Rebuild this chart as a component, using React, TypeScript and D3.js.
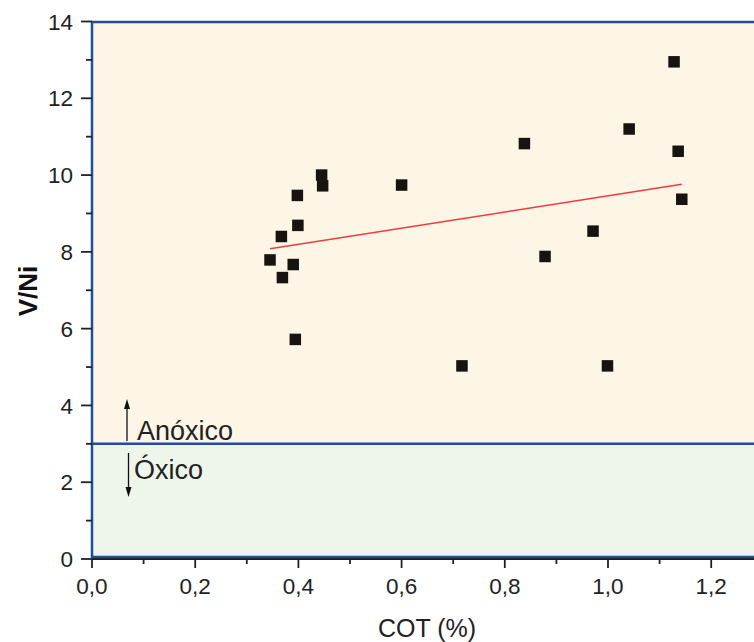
import React from "react";
import * as d3 from "d3";

const cotValues = [0.345, 0.367, 0.369, 0.39, 0.394, 0.398, 0.399, 0.445, 0.447, 0.6, 0.717, 0.838, 0.878, 0.971, 0.999, 1.041, 1.128, 1.136, 1.143];
const vniValues = [7.79, 8.4, 7.33, 7.67, 5.72, 9.47, 8.69, 10.0, 9.72, 9.74, 5.03, 10.82, 7.88, 8.54, 5.03, 11.2, 12.95, 10.62, 9.37];
const trendX = [0.345, 1.143];
const trendY = [8.08, 9.76];
const xTicks = [0, 0.2, 0.4, 0.6, 0.8, 1.0, 1.2];
const xTickLabels = ["0,0", "0,2", "0,4", "0,6", "0,8", "1,0", "1,2"];
const xMinorTicks = [0.1, 0.3, 0.5, 0.7, 0.9, 1.1, 1.3];
const yTicks = [0, 2, 4, 6, 8, 10, 12, 14];
const yMinorTicks = [1, 3, 5, 7, 9, 11, 13];
const threshold = 3;
const zoneLabels = ["Anóxico", "Óxico"];

export default function App() {
  const W = 754, H = 642;
  const x = d3.scaleLinear().domain([0, 1.3]).range([92, 92 + 1.3 * 516]);
  const y = d3.scaleLinear().domain([0, 14]).range([559, 21.5]);
  const font = "'Liberation Sans', Arial, sans-serif";
  const blue = "#1f4f97";
  const sq = 11.5;
  const line = d3.line<number>().x((_, i) => x(trendX[i])).y((d) => y(d));
  const right = x(1.3) + 20;
  return (
    <svg width={W} height={H} style={{ position: "absolute", left: 0, top: 0 }} fontFamily={font}>
      <rect x={0} y={0} width={W} height={H} fill="#fff" />
      <rect x={x(0)} y={y(14)} width={right - x(0)} height={y(threshold) - y(14)} fill="#fdf5e6" />
      <rect x={x(0)} y={y(threshold)} width={right - x(0)} height={y(0) - 2 - y(threshold)} fill="#eef5ea" />
      {/* borders */}
      <line x1={x(0)} x2={right} y1={y(14) + 0.5} y2={y(14) + 0.5} stroke={blue} strokeWidth={2.5} />
      <line x1={x(0)} x2={right} y1={y(threshold)} y2={y(threshold)} stroke={blue} strokeWidth={2.5} />
      <line x1={x(0)} x2={right} y1={y(0) - 2} y2={y(0) - 2} stroke={blue} strokeWidth={2.5} />
      <line x1={x(0)} x2={x(0)} y1={y(14)} y2={y(0) - 1} stroke={blue} strokeWidth={2.5} />
      {/* x axis black line */}
      <line x1={x(0)} x2={right} y1={y(0)} y2={y(0)} stroke="#222" strokeWidth={1.8} />
      {/* y ticks */}
      {yTicks.map((t) => (
        <g key={"y" + t}>
          <line x1={81} x2={x(0)} y1={y(t)} y2={y(t)} stroke="#222" strokeWidth={1.8} />
          <text x={73} y={y(t)} dy="0.36em" textAnchor="end" fontSize={22.5} fill="#222">{t}</text>
        </g>
      ))}
      {yMinorTicks.map((t) => (
        <line key={"ym" + t} x1={86} x2={x(0)} y1={y(t)} y2={y(t)} stroke="#222" strokeWidth={1.8} />
      ))}
      {/* x ticks */}
      {xTicks.map((t, i) => (
        <g key={"x" + t}>
          <line x1={x(t)} x2={x(t)} y1={y(0)} y2={y(0) + 9} stroke="#222" strokeWidth={1.8} />
          <text x={x(t)} y={594} textAnchor="middle" fontSize={22.5} fill="#222">{xTickLabels[i]}</text>
        </g>
      ))}
      {xMinorTicks.map((t) => (
        <line key={"xm" + t} x1={x(t)} x2={x(t)} y1={y(0)} y2={y(0) + 5} stroke="#222" strokeWidth={1.8} />
      ))}
      {/* titles */}
      <text x={427} y={637} textAnchor="middle" fontSize={25} fill="#222">COT (%)</text>
      <text transform="translate(37,291) rotate(-90)" textAnchor="middle" fontSize={26} fontWeight="bold" fill="#111">V/Ni</text>
      {/* zone labels and arrows */}
      <text x={137} y={440} fontSize={27} fill="#222">{zoneLabels[0]}</text>
      <text x={134} y={479} fontSize={27} fill="#222">{zoneLabels[1]}</text>
      <line x1={127} x2={127} y1={441} y2={406} stroke="#111" strokeWidth={1.3} />
      <path d="M127,399 L124,409 L130,409 Z" fill="#111" />
      <line x1={128.5} x2={128.5} y1={453} y2={490} stroke="#111" strokeWidth={1.3} />
      <path d="M128.5,497 L125.5,487 L131.5,487 Z" fill="#111" />
      {/* trend */}
      <path d={line(trendY) || ""} fill="none" stroke="#ef3b3b" strokeWidth={1.4} />
      {/* points */}
      {cotValues.map((c, i) => (
        <rect key={"p" + i} x={x(c) - sq / 2} y={y(vniValues[i]) - sq / 2} width={sq} height={sq} fill="#17140f" />
      ))}
    </svg>
  );
}
